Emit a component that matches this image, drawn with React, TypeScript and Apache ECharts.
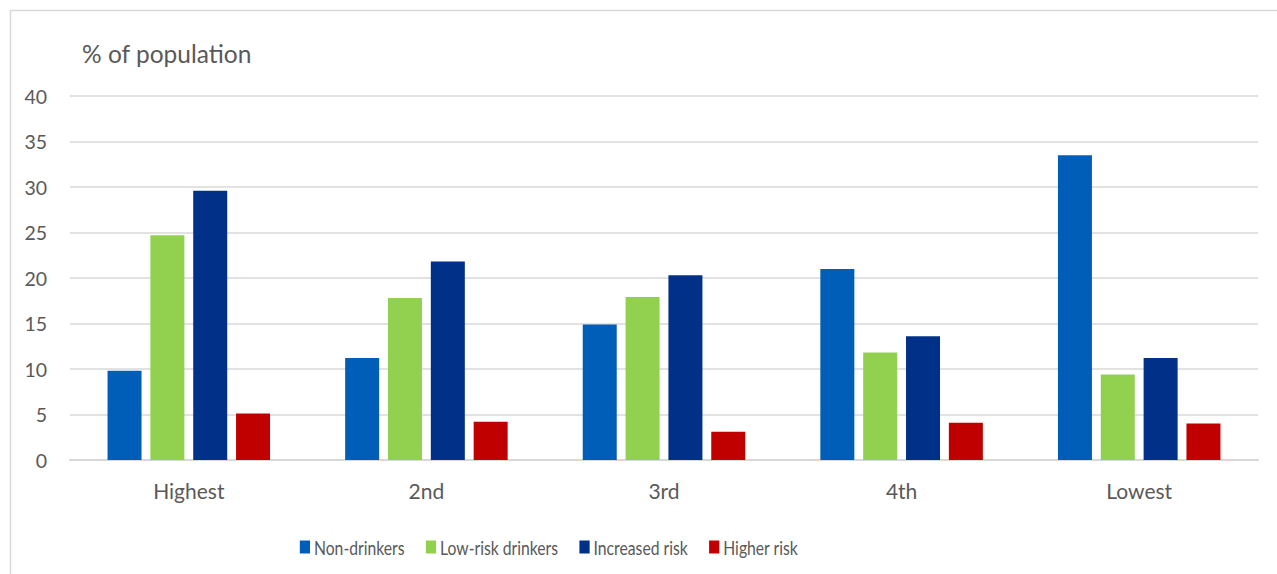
import React, { useEffect, useRef } from "react";
import * as echarts from "echarts";

const categories = ["Highest", "2nd", "3rd", "4th", "Lowest"];
const seriesNames = ["Non-drinkers", "Low-risk drinkers", "Increased risk", "Higher risk"];
const nonDrinkers = [9.8, 11.2, 14.9, 21.0, 33.5];
const lowRiskDrinkers = [24.7, 17.8, 17.9, 11.8, 9.4];
const increasedRisk = [29.6, 21.8, 20.3, 13.6, 11.2];
const higherRisk = [5.1, 4.2, 3.1, 4.1, 4.0];
const seriesColors = ["#005EB8", "#92D050", "#003087", "#C00000"];

const FONT = "Lato, 'Open Sans', sans-serif";
const TEXT = "#595959";

// Legend drawn as a horizontally condensed row of swatches and labels.
const LEGEND_FONT_SIZE = 20;
const LEGEND_SCALE_X = 0.786;
const LEGEND_SWATCH = 13;
const LEGEND_TEXT_GAP = 5;
const LEGEND_ITEM_GAP = 27;
const LEGEND_CENTER_X = 549;
const LEGEND_CENTER_Y = 547;

function measure(text: string, font: string): number {
  const ctx = document.createElement("canvas").getContext("2d");
  if (!ctx) return text.length * 10;
  ctx.font = font;
  return ctx.measureText(text).width;
}

function buildLegend() {
  const font = `${LEGEND_FONT_SIZE}px ${FONT}`;
  const children: any[] = [];
  let x = 0;
  seriesNames.forEach((name, i) => {
    children.push({
      type: "rect",
      shape: { x, y: -LEGEND_SWATCH / 2, width: LEGEND_SWATCH, height: LEGEND_SWATCH },
      style: { fill: seriesColors[i] },
    });
    x += LEGEND_SWATCH + LEGEND_TEXT_GAP;
    children.push({
      type: "text",
      x,
      y: 0,
      style: { text: name, fill: TEXT, font, verticalAlign: "middle", align: "left" },
    });
    x += measure(name, font);
    if (i < seriesNames.length - 1) x += LEGEND_ITEM_GAP;
  });
  const total = x * LEGEND_SCALE_X;
  return {
    type: "group",
    x: LEGEND_CENTER_X - total / 2,
    y: LEGEND_CENTER_Y,
    scaleX: LEGEND_SCALE_X,
    children,
  };
}

export default function App() {
  const ref = useRef<HTMLDivElement>(null);

  useEffect(() => {
    if (!ref.current) return;
    const chart = echarts.init(ref.current, undefined, { renderer: "svg" });
    const values = [nonDrinkers, lowRiskDrinkers, increasedRisk, higherRisk];
    chart.setOption({
      animation: false,
      backgroundColor: "#ffffff",
      textStyle: { fontFamily: FONT },
      graphic: [
        {
          type: "rect",
          shape: { x: 10.5, y: 10.5, width: 1400, height: 700 },
          style: { fill: "none", stroke: "#d9d9d9", lineWidth: 1.5 },
          silent: true,
        },
        {
          type: "text",
          x: 82,
          y: 53,
          style: {
            text: "% of population",
            fill: TEXT,
            font: `24.5px ${FONT}`,
            verticalAlign: "middle",
          },
        },
        buildLegend(),
      ],
      grid: { left: 70, right: 19, top: 96, bottom: 114, containLabel: false },
      xAxis: {
        type: "category",
        data: categories,
        axisLine: { lineStyle: { color: "#d9d9d9", width: 2 } },
        axisTick: { show: false },
        axisLabel: { color: TEXT, fontSize: 21, margin: 20, fontFamily: FONT },
      },
      yAxis: {
        type: "value",
        min: 0,
        max: 40,
        interval: 5,
        axisLine: { show: false },
        axisTick: { show: false },
        axisLabel: { color: TEXT, fontSize: 19.5, margin: 23, fontFamily: FONT },
        splitLine: { lineStyle: { color: "#d9d9d9", width: 1.5 } },
      },
      series: seriesNames.map((name, i) => ({
        name,
        type: "bar",
        data: values[i],
        barWidth: 34,
        barGap: "26%",
        itemStyle: { color: seriesColors[i] },
      })),
    });
    return () => chart.dispose();
  }, []);

  return (
    <div
      ref={ref}
      style={{ position: "fixed", left: 0, top: 0, width: 1277, height: 574 }}
    />
  );
}
